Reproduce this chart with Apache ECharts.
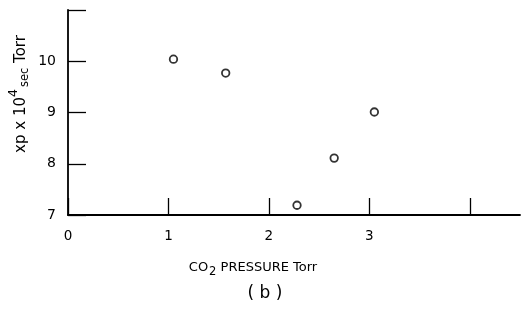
<!DOCTYPE html>
<html><head><meta charset="utf-8">
<script src="https://cdn.jsdelivr.net/npm/echarts@6/dist/echarts.min.js"></script>
<style>html,body{margin:0;padding:0;background:#fff}#c{width:523px;height:320px}</style>
</head><body><div id="c"></div>
<script>
var pressure = [1.05, 1.57, 2.28, 2.65, 3.05];
var xpValues = [10.04, 9.77, 7.19, 8.11, 9.01];
var xTickValues = [0, 1, 2, 3, 4];
var xLabelValues = [0, 1, 2, 3];
var yTickValues = [7, 8, 9, 10, 11];
var yLabelValues = [7, 8, 9, 10];

var FONT = '"DejaVu Sans", "Liberation Sans", sans-serif';
var chart = echarts.init(document.getElementById('c'), null, {renderer: 'canvas'});
var pts = pressure.map(function (p, i) { return [p, xpValues[i]]; });
chart.setOption({
  animation: false,
  backgroundColor: '#fff',
  grid: {left: 68, right: 3, top: 10, bottom: 105},
  xAxis: {
    type: 'value', min: 0, max: 4.5, interval: 1,
    splitLine: {show: false},
    axisLine: {onZero: false, lineStyle: {color: '#000', width: 1.8}},
    axisTick: {inside: true, length: 17, customValues: xTickValues, lineStyle: {color: '#000', width: 1.3}},
    axisLabel: {customValues: xLabelValues, color: '#000', fontSize: 13.5, fontFamily: FONT, margin: 14}
  },
  yAxis: {
    type: 'value', min: 7, max: 11, interval: 1,
    splitLine: {show: false},
    axisLine: {onZero: false, lineStyle: {color: '#000', width: 1.8}},
    axisTick: {inside: true, length: 18, customValues: yTickValues, lineStyle: {color: '#000', width: 1.3}},
    axisLabel: {customValues: yLabelValues, color: '#000', fontSize: 14, fontFamily: FONT, margin: 12}
  },
  series: [{
    type: 'scatter',
    data: pts,
    symbol: 'circle',
    symbolSize: 7.5,
    itemStyle: {color: '#fff', borderColor: '#000', borderWidth: 1.8}
  }],
  graphic: [
    {
      type: 'text', x: 21, y: 94, rotation: Math.PI / 2,
      style: {
        text: '{a|xp x 10}{sup|4}{sub|sec}{a| Torr}',
        align: 'center', verticalAlign: 'middle',
        fill: '#000',
        rich: {
          a: {fontSize: 15, fontFamily: FONT, fill: '#000'},
          sup: {fontSize: 12.5, fontFamily: FONT, fill: '#000', padding: [0, 0, 14, 0]},
          sub: {fontSize: 11.5, fontFamily: FONT, fill: '#000', padding: [8, 0, 0, 2]}
        }
      }
    },
    {
      type: 'text', x: 253, y: 268,
      style: {
        text: '{a|CO}{sub|2}{a| PRESSURE Torr}',
        align: 'center', verticalAlign: 'middle', fill: '#000',
        rich: {
          a: {fontSize: 13, fontFamily: FONT, fill: '#000'},
          sub: {fontSize: 11.5, fontFamily: FONT, fill: '#000', padding: [9, 0, 0, 1]}
        }
      }
    },
    {
      type: 'text', x: 265, y: 294,
      style: {text: '( b )', align: 'center', verticalAlign: 'middle', fontSize: 17, fontFamily: FONT, fill: '#000'}
    }
  ]
});
</script></body></html>
